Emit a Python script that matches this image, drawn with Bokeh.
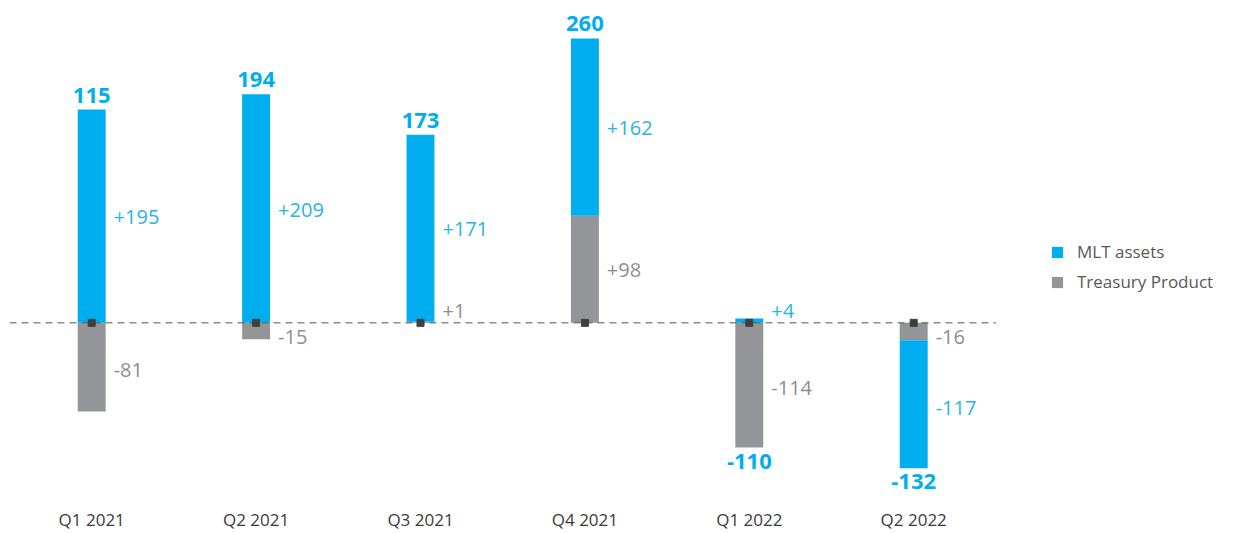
from bokeh.plotting import figure
from bokeh.models import ColumnDataSource, Range1d, FixedTicker, Legend, LegendItem
from bokeh.core.properties import value
from bokeh.embed import file_html
from bokeh.resources import INLINE

quarters = ["Q1 2021", "Q2 2021", "Q3 2021", "Q4 2021", "Q1 2022", "Q2 2022"]
mlt_assets = [195, 209, 171, 162, 4, -117]
treasury_product = [-81, -15, 1, 98, -114, -16]
totals = [115, 194, 173, 260, -110, -132]

BLUE = "#00AEEF"
GRAY = "#939598"
FONT = "Open Sans"

n = len(quarters)
xs = list(range(n))
px_per_cat = 164.4
fig_w = 1243
left = 9
frame_w = fig_w - left
bar_w = 0.17

# stacking: treasury nearest zero, MLT stacked on its sign side
t_bottom, t_top, m_bottom, m_top = [], [], [], []
for m, t in zip(mlt_assets, treasury_product):
    t_bottom.append(0)
    t_top.append(t)
    if (m >= 0) == (t >= 0):
        m_bottom.append(t)
        m_top.append(t + m)
    else:
        m_bottom.append(0)
        m_top.append(m)

def label_y(b, tp):
    seg = tp - b
    if abs(seg) < 25 and b == 0:
        return 11 if seg >= 0 else -13
    return (b + tp) / 2 - (1 if seg >= 0 else 3)

def fmt(v):
    return f"+{v}" if v > 0 else f"{v}"

p = figure(width=fig_w, height=533, output_backend="svg", toolbar_location=None,
           x_range=Range1d(-0.5, -0.5 + frame_w / px_per_cat),
           y_range=Range1d(-152.4, 285.6),
           min_border_left=left, min_border_right=0, min_border_top=10, min_border_bottom=0)
p.outline_line_color = None
p.grid.visible = False
p.yaxis.visible = False
p.background_fill_color = "white"
p.border_fill_color = "white"

xa = p.xaxis[0]
xa.ticker = FixedTicker(ticks=xs)
xa.major_label_overrides = {i: q for i, q in enumerate(quarters)}
xa.axis_line_color = None
xa.major_tick_line_color = None
xa.minor_tick_line_color = None
xa.major_label_standoff = 12
xa.major_label_text_line_height = 0.6
xa.major_label_text_font = FONT
xa.major_label_text_font_size = "17px"
xa.major_label_text_color = "#3a3a3a"

src_t = ColumnDataSource(dict(x=xs, bottom=t_bottom, top=t_top))
src_m = ColumnDataSource(dict(x=xs, bottom=m_bottom, top=m_top))
r_t = p.vbar(x="x", bottom="bottom", top="top", width=bar_w, source=src_t,
             fill_color=GRAY, line_color=None)
r_m = p.vbar(x="x", bottom="bottom", top="top", width=bar_w, source=src_m,
             fill_color=BLUE, line_color=None)

# zero line and markers
p.line(x=[-0.5, n - 0.5], y=[0, 0], line_color="#555555", line_dash="7 5", line_width=1)
p.scatter(x=xs, y=[0] * n, marker="square", size=7, color="#3f3f3f")

# segment labels
lab_src_t = ColumnDataSource(dict(x=[x + bar_w / 2 for x in xs],
                                  y=[label_y(b, t) for b, t in zip(t_bottom, t_top)],
                                  text=[fmt(v) for v in treasury_product]))
lab_src_m = ColumnDataSource(dict(x=[x + bar_w / 2 for x in xs],
                                  y=[label_y(b, t) for b, t in zip(m_bottom, m_top)],
                                  text=[fmt(v) for v in mlt_assets]))
p.text(x="x", y="y", text="text", source=lab_src_t, x_offset=8,
       text_align="left", text_baseline="middle", text_font=value(FONT),
       text_font_size="20px", text_color="#8e8e91")
p.text(x="x", y="y", text="text", source=lab_src_m, x_offset=8,
       text_align="left", text_baseline="middle", text_font=value(FONT),
       text_font_size="20px", text_color="#2bb3e8")

# totals
pos_x, pos_y, pos_t, neg_x, neg_y, neg_t = [], [], [], [], [], []
for i, tot in enumerate(totals):
    if tot >= 0:
        pos_x.append(i); pos_y.append(max(0, t_top[i], m_top[i])); pos_t.append(str(tot))
    else:
        neg_x.append(i); neg_y.append(min(0, t_top[i], m_top[i])); neg_t.append(str(tot))
p.text(x=pos_x, y=pos_y, text=pos_t, y_offset=-7, text_align="center",
       text_baseline="bottom", text_font=value(FONT), text_font_style="bold",
       text_font_size="22px", text_color=BLUE)
p.text(x=neg_x, y=neg_y, text=neg_t, y_offset=6, text_align="center",
       text_baseline="top", text_font=value(FONT), text_font_style="bold",
       text_font_size="22px", text_color=BLUE)

legend = Legend(items=[LegendItem(label="MLT assets", renderers=[r_m]),
                       LegendItem(label="Treasury Product", renderers=[r_t])],
                location=(1041, 196), padding=0, margin=0, spacing=7,
                glyph_width=14, glyph_height=14, label_height=20,
                label_standoff=13, border_line_color=None,
                background_fill_alpha=0,
                label_text_font=FONT, label_text_font_size="17px",
                label_text_color="#58595b")
p.add_layout(legend)

open("out.html", "w").write(file_html(p, INLINE))
